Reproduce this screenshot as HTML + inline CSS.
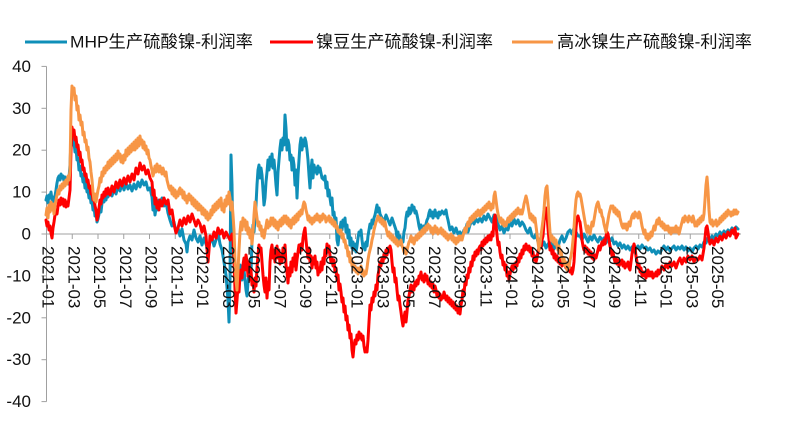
<!DOCTYPE html>
<html><head><meta charset="utf-8"><style>
html,body{margin:0;padding:0;background:#fff;}
svg{display:block;}
.t{font-family:"Liberation Sans","Noto Sans CJK SC",sans-serif;font-size:17px;fill:#111;}
</style></head><body>
<svg width="798" height="425" viewBox="0 0 798 425" xmlns="http://www.w3.org/2000/svg">
<rect width="798" height="425" fill="#fff"/>
<!-- legend -->
<line x1="25" y1="42" x2="67" y2="42" stroke="#0f8fb8" stroke-width="3"/>
<text class="t" x="70" y="42" dominant-baseline="central" textLength="183" lengthAdjust="spacingAndGlyphs">MHP生产硫酸镍-利润率</text>
<line x1="270" y1="42" x2="313" y2="42" stroke="#ff0000" stroke-width="3"/>
<text class="t" x="316" y="42" dominant-baseline="central" textLength="177" lengthAdjust="spacingAndGlyphs">镍豆生产硫酸镍-利润率</text>
<line x1="512" y1="42" x2="553" y2="42" stroke="#f79646" stroke-width="3"/>
<text class="t" x="557" y="42" dominant-baseline="central" textLength="195" lengthAdjust="spacingAndGlyphs">高冰镍生产硫酸镍-利润率</text>
<!-- y axis -->
<g stroke="#a0a0a0" stroke-width="1">
<line x1="46.5" y1="66.4" x2="46.5" y2="401.6"/>
<line x1="41.5" y1="66.4" x2="46.5" y2="66.4"/>
<line x1="41.5" y1="108.3" x2="46.5" y2="108.3"/>
<line x1="41.5" y1="150.2" x2="46.5" y2="150.2"/>
<line x1="41.5" y1="192.1" x2="46.5" y2="192.1"/>
<line x1="41.5" y1="234" x2="46.5" y2="234"/>
<line x1="41.5" y1="275.9" x2="46.5" y2="275.9"/>
<line x1="41.5" y1="317.8" x2="46.5" y2="317.8"/>
<line x1="41.5" y1="359.7" x2="46.5" y2="359.7"/>
<line x1="41.5" y1="401.6" x2="46.5" y2="401.6"/>
</g>
<g class="t" text-anchor="end" dominant-baseline="central">
<text x="31" y="66.4">40</text>
<text x="31" y="108.3">30</text>
<text x="31" y="150.2">20</text>
<text x="31" y="192.1">10</text>
<text x="31" y="234">0</text>
<text x="31" y="275.9">-10</text>
<text x="31" y="317.8">-20</text>
<text x="31" y="359.7">-30</text>
<text x="31" y="401.6">-40</text>
</g>
<!-- x axis -->
<g stroke="#a0a0a0" stroke-width="1">
<line x1="46.5" y1="234" x2="741" y2="234"/>
<line x1="46.5" y1="234" x2="46.5" y2="239"/>
<line x1="72.25" y1="234" x2="72.25" y2="239"/>
<line x1="98" y1="234" x2="98" y2="239"/>
<line x1="123.75" y1="234" x2="123.75" y2="239"/>
<line x1="149.5" y1="234" x2="149.5" y2="239"/>
<line x1="175.25" y1="234" x2="175.25" y2="239"/>
<line x1="201" y1="234" x2="201" y2="239"/>
<line x1="226.75" y1="234" x2="226.75" y2="239"/>
<line x1="252.5" y1="234" x2="252.5" y2="239"/>
<line x1="278.25" y1="234" x2="278.25" y2="239"/>
<line x1="304" y1="234" x2="304" y2="239"/>
<line x1="329.75" y1="234" x2="329.75" y2="239"/>
<line x1="355.5" y1="234" x2="355.5" y2="239"/>
<line x1="381.25" y1="234" x2="381.25" y2="239"/>
<line x1="407" y1="234" x2="407" y2="239"/>
<line x1="432.75" y1="234" x2="432.75" y2="239"/>
<line x1="458.5" y1="234" x2="458.5" y2="239"/>
<line x1="484.25" y1="234" x2="484.25" y2="239"/>
<line x1="510" y1="234" x2="510" y2="239"/>
<line x1="535.75" y1="234" x2="535.75" y2="239"/>
<line x1="561.5" y1="234" x2="561.5" y2="239"/>
<line x1="587.25" y1="234" x2="587.25" y2="239"/>
<line x1="613" y1="234" x2="613" y2="239"/>
<line x1="638.75" y1="234" x2="638.75" y2="239"/>
<line x1="664.5" y1="234" x2="664.5" y2="239"/>
<line x1="690.25" y1="234" x2="690.25" y2="239"/>
<line x1="716" y1="234" x2="716" y2="239"/>
</g>
<!-- series -->
<g fill="none" stroke-width="3" stroke-linejoin="round" stroke-linecap="round">
<polyline stroke="#0f8fb8" points="46,200 47,196 48,203 49,195 50,198 51,192 52,200 53,197 54,203 55,196 56,190 57,183 58,178 59,176 60,180 61,174 62,178 63,176 64,181 65,177 66,183 67,180 68,184 69,178 70,165 71,140 72,133 73,145 74,142 75,152 76,148 77,160 78,158 79,170 80,166 81,176 82,174 83,182 84,178 85,188 86,184 87,192 88,190 89,198 90,194 91,203 92,200 93,210 94,206 95,216 96,212 97,222 98,219 99,214 100,208 101,212 102,203 103,198 104,202 105,196 106,200 107,193 108,197 110,190 112,196 114,189 116,194 118,186 120,191 122,184 124,190 126,183 128,189 130,185 132,191 134,184 136,189 138,182 140,187 142,180 144,185 146,182 148,190 150,188 152,197 153,210 154,204 155,215 156,208 157,202 158,210 159,200 160,205 162,198 164,206 166,202 168,213 170,220 172,226 174,222 176,232 178,228 180,236 182,229 184,240 186,244 187,252 188,242 190,236 192,240 194,230 196,238 198,242 200,236 202,245 204,238 206,244 208,250 210,242 212,238 214,246 216,240 218,232 220,244 222,250 224,262 226,275 228,300 229,322 230,280 231,155 232,185 233,250 234,262 235,280 236,270 237,285 238,278 240,265 242,280 244,270 246,290 247,296 248,282 250,262 251,272 252,240 253,225 254,232 256,205 257,185 258,170 259,165 260,178 261,168 262,175 263,190 264,205 265,198 266,182 267,172 268,160 269,170 270,157 271,166 272,154 273,168 274,160 275,172 276,185 277,195 278,172 279,160 280,148 281,140 282,150 283,138 284,145 285,115 286,128 287,150 288,140 289,145 290,160 291,155 292,170 293,158 294,165 295,185 296,170 297,198 298,175 299,160 300,145 301,138 302,150 303,140 304,146 305,138 306,142 307,150 308,160 309,175 310,188 311,170 312,160 313,178 314,165 315,172 316,168 317,174 318,166 319,172 320,168 322,178 324,180 325,176 326,188 327,182 328,196 329,190 330,198 331,205 332,198 333,215 334,212 335,222 336,218 337,240 338,245 339,236 340,228 341,222 342,230 343,220 344,226 345,218 346,232 347,225 348,238 349,230 350,245 351,238 352,248 353,242 354,250 355,244 356,252 357,246 358,238 359,232 360,235 361,230 362,240 363,248 364,244 365,250 366,242 367,246 368,236 369,230 370,224 371,228 372,220 373,224 374,218 375,215 376,210 377,205 378,212 379,208 380,214 382,218 384,222 386,215 388,220 390,225 392,218 394,224 396,230 397,238 398,232 399,242 400,236 401,245 402,240 403,242 404,232 405,228 406,218 407,212 408,216 409,208 410,214 411,212 412,205 413,210 414,207 415,213 416,211 417,215 418,220 419,226 420,230 421,225 422,232 423,228 424,226 425,230 426,224 427,220 428,218 429,213 430,210 431,216 432,212 433,218 434,214 435,210 436,216 437,213 438,218 439,212 440,215 442,211 444,214 446,210 447,216 448,220 449,225 450,230 452,227 454,233 456,228 458,234 460,232 462,236 464,230 466,228 467,224 468,232 470,225 472,220 474,224 476,219 478,222 480,218 482,222 484,216 486,220 488,214 490,218 492,222 494,215 496,219 497,216 498,224 500,230 502,226 504,233 506,228 507,224 508,230 510,222 512,226 514,219 516,224 518,220 520,226 522,222 524,225 526,230 528,233 530,228 532,236 534,238 536,234 538,242 540,239 542,246 544,242 546,248 548,244 550,247 552,243 554,249 556,245 558,247 560,240 562,236 564,242 566,238 568,232 570,230 572,234 574,228 576,232 578,236 580,236 582,240 584,234 586,238 588,242 590,236 592,240 594,235 596,239 598,242 600,237 602,240 604,238 606,243 608,239 610,241 612,238 614,244 616,242 618,246 620,243 622,248 624,245 626,249 628,246 630,250 632,247 634,252 636,248 638,246 640,249 642,245 644,248 646,247 648,250 650,248 652,252 654,250 656,254 658,251 660,253 662,249 664,246 666,250 668,247 670,251 672,248 674,246 676,250 678,247 680,249 682,246 684,250 686,247 688,251 690,248 692,252 694,248 696,246 698,249 700,245 702,247 704,242 706,243 708,238 710,240 712,236 714,239 716,234 718,236 720,232 722,235 724,231 726,234 728,230 730,232 732,228 734,231 736,227 738,229"/>
<polyline stroke="#ff0000" points="46,220 47,226 48,222 49,230 50,226 51,233 52,238 53,228 54,222 55,215 56,210 57,214 58,206 59,200 60,205 61,198 62,204 63,199 64,206 65,200 66,207 67,202 68,206 69,198 70,190 71,150 72,127 73,135 74,130 75,140 76,137 77,147 78,145 79,155 80,152 81,162 82,160 83,170 84,168 85,176 86,174 87,182 88,180 89,188 90,186 91,194 92,192 93,200 94,198 95,206 96,210 97,220 98,216 99,208 100,200 101,204 102,195 103,198 104,192 105,196 106,189 107,194 108,188 110,195 112,186 114,192 116,182 118,188 120,180 122,186 124,178 126,184 128,176 130,182 132,174 134,180 136,168 138,174 140,163 142,170 144,166 146,174 148,170 150,178 152,182 153,195 154,190 155,204 156,198 157,208 158,202 159,210 160,200 162,206 164,198 166,204 168,200 170,214 172,210 174,224 176,233 178,228 180,220 182,226 184,218 186,224 188,216 190,222 192,214 194,220 196,226 198,220 200,224 202,232 204,226 206,236 208,262 209,250 210,236 212,240 214,232 216,238 218,228 220,234 222,230 224,238 226,232 228,236 230,240 232,234 233,240 234,260 235,290 236,313 237,300 238,285 239,292 240,275 241,270 242,278 243,265 244,258 245,270 246,255 247,262 248,276 249,262 250,280 251,270 252,285 253,280 254,292 255,278 256,286 257,268 258,255 259,245 260,252 261,248 262,262 263,275 264,285 265,292 266,278 267,298 268,282 269,290 270,262 271,250 272,245 273,258 274,250 275,262 276,252 277,246 278,258 279,250 280,264 281,256 282,262 283,248 284,258 285,245 286,265 287,272 288,283 289,268 290,276 291,262 292,272 293,258 294,266 295,254 296,270 297,260 298,252 299,245 300,252 301,244 302,250 303,238 304,232 305,228 306,240 307,250 308,258 309,248 310,262 311,256 312,268 313,258 314,264 315,256 316,268 317,262 318,275 319,268 320,272 321,262 322,270 323,258 324,264 325,250 326,256 327,244 328,252 329,246 330,256 331,262 332,258 333,266 334,260 335,272 336,268 337,280 338,275 339,290 340,284 341,292 342,302 343,298 344,312 345,306 346,320 347,316 348,330 349,325 350,338 351,334 352,350 353,357 354,346 355,340 356,344 357,335 358,340 359,332 360,338 361,334 362,340 363,336 364,346 365,352 366,348 367,352 368,340 369,322 370,305 371,310 372,298 373,302 374,292 375,296 376,285 377,290 378,275 379,270 380,262 381,266 382,258 383,262 384,254 385,258 386,250 387,255 388,248 389,252 390,246 391,250 392,262 393,272 394,268 395,282 396,278 397,290 398,300 399,296 400,305 401,312 402,320 403,326 404,318 405,312 406,322 407,312 408,300 409,296 410,290 411,285 412,292 413,286 414,290 415,282 416,286 417,280 418,284 419,276 420,278 421,272 422,280 423,276 424,282 425,274 426,280 427,276 428,284 429,280 430,286 431,282 432,288 433,284 434,292 435,286 436,290 437,296 438,292 439,298 440,294 441,300 442,296 443,298 444,292 445,296 446,300 447,296 448,302 449,298 450,304 451,300 452,306 453,302 454,308 455,304 456,310 457,306 458,313 459,308 460,314 461,305 462,300 463,290 464,294 465,282 466,285 467,275 468,278 469,268 470,272 471,262 472,266 473,256 474,260 475,252 476,256 477,250 478,254 479,248 480,246 481,250 482,242 483,246 484,240 485,244 486,238 487,242 488,236 489,240 490,235 491,240 492,232 493,236 494,220 495,215 496,225 497,235 498,245 499,242 500,252 501,258 502,255 503,265 504,262 505,270 506,265 507,276 508,272 509,280 510,274 511,270 512,266 513,270 514,264 515,268 516,262 517,266 518,258 519,262 520,254 521,258 522,250 523,254 524,246 525,250 526,244 527,248 528,250 529,246 530,252 531,248 532,256 533,252 534,260 535,256 536,262 537,258 538,252 539,248 540,244 541,248 542,240 543,236 544,222 545,212 546,208 547,215 548,228 549,240 550,250 551,246 552,254 553,250 554,258 555,254 556,260 557,256 558,262 559,258 560,264 561,260 562,266 563,262 564,260 565,265 566,268 567,264 568,270 569,266 570,272 571,268 572,274 573,270 574,262 575,245 576,228 577,218 578,216 579,220 580,222 581,230 582,240 583,246 584,250 585,246 586,252 587,248 588,254 589,250 590,256 591,252 592,258 593,254 594,260 595,255 596,258 597,254 598,250 599,246 600,250 601,246 602,242 603,245 604,240 605,244 606,236 607,232 608,234 609,240 610,246 611,250 612,256 613,252 614,258 615,262 616,258 617,264 618,260 619,266 620,262 621,264 622,260 623,266 624,262 625,268 626,264 627,266 628,262 629,268 630,270 631,262 632,254 633,248 634,244 635,248 636,256 637,262 638,268 639,264 640,272 641,268 642,276 643,272 644,276 645,272 646,278 647,274 648,270 649,276 650,272 651,276 652,272 653,278 654,274 655,276 656,272 657,276 658,270 659,274 660,272 662,266 664,270 666,264 668,268 670,262 672,266 674,262 676,268 678,262 680,258 682,264 684,258 686,262 688,256 690,260 692,256 694,262 696,258 698,260 700,256 702,260 704,248 705,238 706,228 707,226 708,232 709,240 710,244 712,240 714,245 716,238 718,242 720,236 722,240 724,234 726,238 728,232 730,236 732,230 734,234 735,228 736,238 738,234"/>
<polyline stroke="#f79646" points="46,215 47,208 48,218 49,205 50,212 51,202 52,210 53,204 54,214 55,206 56,200 57,195 58,190 59,194 60,186 61,190 62,184 63,188 64,182 65,186 66,180 67,184 68,176 69,180 70,170 71,110 72,86 73,92 74,88 75,100 76,96 77,110 78,106 79,120 80,115 81,125 82,122 83,135 84,132 85,142 86,140 87,150 88,147 89,158 90,162 91,172 92,180 93,192 94,200 95,194 96,202 97,196 98,190 99,186 100,178 101,182 102,172 103,176 104,168 105,173 106,166 107,170 108,162 109,168 110,160 111,166 112,158 113,164 114,156 115,162 116,154 117,160 118,151 119,158 120,154 121,162 122,156 123,163 124,155 125,160 126,150 127,156 128,148 129,154 130,146 131,152 132,144 133,150 134,142 135,150 136,140 137,148 138,138 139,146 140,136 141,144 142,140 143,148 144,142 145,150 146,146 147,154 148,150 149,158 150,160 151,166 152,170 153,176 154,172 155,166 156,172 157,164 158,168 159,172 160,166 161,170 162,174 163,168 164,172 165,176 166,172 167,180 168,184 169,188 170,190 171,186 172,194 173,188 174,196 175,190 176,198 177,192 178,196 179,190 180,188 181,194 182,190 183,198 184,192 185,200 186,196 187,203 188,198 189,194 190,200 191,196 192,204 193,198 194,206 195,200 196,208 197,202 198,210 199,204 200,210 201,206 202,214 203,208 204,215 205,210 206,218 207,212 208,220 209,214 210,218 211,210 212,215 213,206 214,212 215,204 216,210 217,202 218,208 219,200 220,206 221,198 222,210 223,204 224,212 225,200 226,206 227,196 228,204 229,192 230,198 231,210 232,202 233,215 234,230 235,260 236,280 237,290 238,270 239,250 240,232 241,222 242,230 243,218 244,226 245,220 246,230 247,222 248,234 249,228 250,238 251,230 252,244 253,232 254,215 255,202 256,210 257,218 258,226 259,222 260,230 261,226 262,236 263,230 264,238 265,232 266,226 267,220 268,228 269,222 270,226 271,218 272,224 273,218 274,226 275,220 276,228 277,222 278,230 279,224 280,220 281,226 282,218 283,224 284,216 285,222 286,216 287,224 288,218 289,226 290,220 291,228 292,222 293,218 294,224 295,216 296,222 297,214 298,220 299,212 300,216 301,210 302,214 303,206 304,202 305,204 306,210 307,214 308,220 309,216 310,222 311,218 312,224 313,218 314,222 315,216 316,220 317,214 318,220 319,216 320,222 321,216 322,220 323,214 324,218 325,216 326,222 327,218 328,220 329,216 330,222 331,218 332,224 333,220 334,226 335,222 336,228 337,226 338,232 339,230 340,234 341,230 342,238 343,234 344,242 345,240 346,248 347,246 348,256 349,252 350,262 351,258 352,266 353,262 354,270 355,266 356,272 357,268 358,274 359,268 360,272 361,266 362,274 363,270 364,276 365,272 366,274 367,268 368,260 369,254 370,250 371,246 372,240 373,236 374,230 375,226 376,222 377,220 378,216 379,218 380,222 381,218 382,224 383,220 384,226 385,222 386,228 387,232 388,236 389,232 390,238 391,234 392,240 393,236 394,242 395,238 396,244 397,240 398,246 399,242 400,244 401,240 402,246 403,248 404,252 405,248 406,254 407,250 408,246 409,242 410,240 411,236 412,242 413,238 414,244 415,240 416,236 417,240 418,234 419,238 420,232 421,236 422,230 423,234 424,228 425,232 426,226 427,230 428,224 429,228 430,226 431,232 432,228 433,234 434,230 435,226 436,232 437,228 438,234 439,230 440,232 441,228 442,234 443,230 444,236 445,232 446,238 447,234 448,240 449,236 450,238 451,234 452,240 453,236 454,242 455,238 456,244 457,238 458,242 459,236 460,240 461,236 462,240 463,236 464,232 465,228 466,232 467,226 468,222 469,226 470,218 471,222 472,216 473,220 474,214 475,218 476,212 477,216 478,210 479,214 480,216 481,210 482,214 483,208 484,212 485,206 486,210 487,204 488,208 489,202 490,206 491,210 492,204 493,208 494,196 495,192 496,200 497,208 498,214 499,218 500,222 501,218 502,224 503,220 504,226 505,222 506,226 507,222 508,218 509,222 510,216 511,220 512,214 513,218 514,212 515,216 516,210 517,214 518,208 519,212 520,214 521,210 522,214 523,210 524,204 525,200 526,196 527,200 528,206 529,212 530,218 531,214 532,220 533,216 534,222 535,218 536,226 537,234 538,242 539,250 540,244 541,236 542,228 543,220 544,210 545,196 546,188 547,186 548,200 549,218 550,232 551,240 552,236 553,242 554,238 555,244 556,240 557,246 558,250 559,246 560,254 561,250 562,258 563,262 564,258 565,266 566,262 567,270 568,264 569,268 570,260 571,256 572,250 573,240 574,228 575,212 576,200 577,194 578,192 579,196 580,194 581,198 582,204 583,210 584,216 585,222 586,228 587,232 588,226 589,232 590,234 591,228 592,222 593,226 594,220 595,214 596,208 597,204 598,202 599,206 600,212 601,210 602,216 603,218 604,224 605,228 606,232 607,226 608,220 609,214 610,210 611,206 612,208 613,206 614,212 615,208 616,214 617,210 618,216 619,212 620,218 621,222 622,226 623,228 624,224 625,228 626,224 627,230 628,226 629,222 630,226 631,220 632,216 633,214 634,218 635,212 636,216 637,214 638,218 639,212 640,214 641,220 642,226 643,230 644,234 645,230 646,238 647,234 648,240 649,234 650,238 651,232 652,236 653,230 654,226 655,230 656,224 657,220 658,224 659,218 660,222 661,226 662,222 663,228 664,224 665,230 666,226 667,230 668,226 669,232 670,228 671,234 672,228 673,232 674,228 675,232 676,226 677,232 678,228 679,234 680,230 681,226 682,222 683,218 684,222 685,216 686,220 687,218 688,222 689,216 690,220 691,218 692,222 693,216 694,220 695,226 696,222 697,226 698,220 699,224 700,218 701,222 702,216 703,220 704,214 705,200 706,185 707,177 708,190 709,210 710,222 711,224 712,220 713,226 714,222 715,224 716,220 717,226 718,222 719,224 720,218 721,222 722,216 723,220 724,214 725,218 726,212 727,216 728,210 729,214 730,212 731,216 732,212 733,215 734,210 735,214 736,210 737,214 738,212"/>
</g>
<!-- x labels -->
<g class="t" dominant-baseline="central">
<text transform="translate(48,246) rotate(90)">2021-01</text>
<text transform="translate(73.75,246) rotate(90)">2021-03</text>
<text transform="translate(99.5,246) rotate(90)">2021-05</text>
<text transform="translate(125.25,246) rotate(90)">2021-07</text>
<text transform="translate(151,246) rotate(90)">2021-09</text>
<text transform="translate(176.75,246) rotate(90)">2021-11</text>
<text transform="translate(202.5,246) rotate(90)">2022-01</text>
<text transform="translate(228.25,246) rotate(90)">2022-03</text>
<text transform="translate(254,246) rotate(90)">2022-05</text>
<text transform="translate(279.75,246) rotate(90)">2022-07</text>
<text transform="translate(305.5,246) rotate(90)">2022-09</text>
<text transform="translate(331.25,246) rotate(90)">2022-11</text>
<text transform="translate(357,246) rotate(90)">2023-01</text>
<text transform="translate(382.75,246) rotate(90)">2023-03</text>
<text transform="translate(408.5,246) rotate(90)">2023-05</text>
<text transform="translate(434.25,246) rotate(90)">2023-07</text>
<text transform="translate(460,246) rotate(90)">2023-09</text>
<text transform="translate(485.75,246) rotate(90)">2023-11</text>
<text transform="translate(511.5,246) rotate(90)">2024-01</text>
<text transform="translate(537.25,246) rotate(90)">2024-03</text>
<text transform="translate(563,246) rotate(90)">2024-05</text>
<text transform="translate(588.75,246) rotate(90)">2024-07</text>
<text transform="translate(614.5,246) rotate(90)">2024-09</text>
<text transform="translate(640.25,246) rotate(90)">2024-11</text>
<text transform="translate(666,246) rotate(90)">2025-01</text>
<text transform="translate(691.75,246) rotate(90)">2025-03</text>
<text transform="translate(717.5,246) rotate(90)">2025-05</text>
</g>
</svg>
</body></html>
